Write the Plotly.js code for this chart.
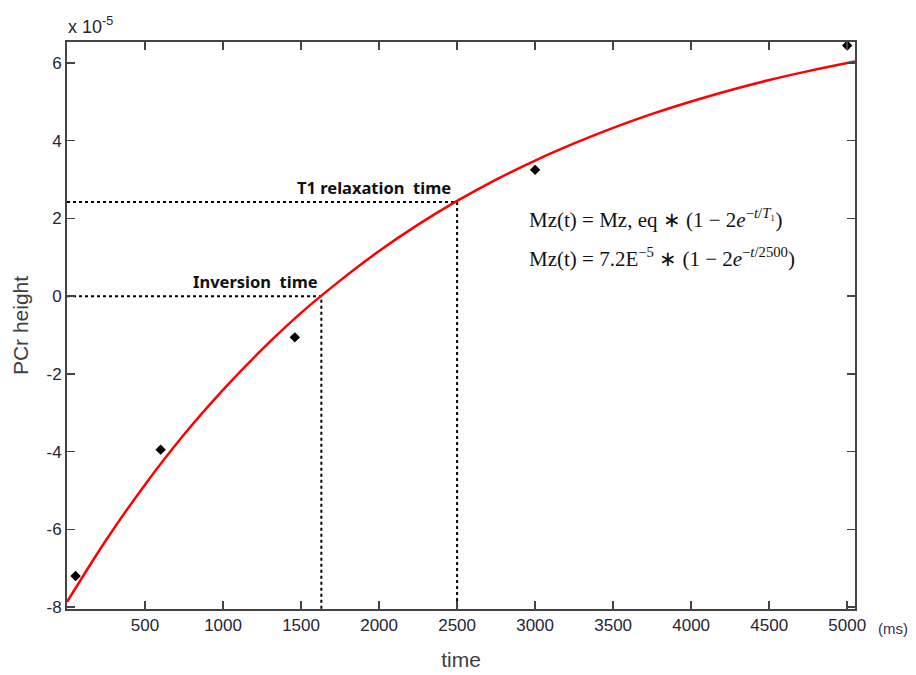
<!DOCTYPE html>
<html>
<head>
<meta charset="utf-8">
<script src="https://cdn.plot.ly/plotly-3.0.1.min.js"></script>
<style>html,body{margin:0;padding:0;background:#fff;}#chart{width:916px;height:675px;}</style>
</head>
<body>
<div id="chart"></div>
<script>
// Measured data points (time in ms, PCr height in units of 1e-5)
const pointTimes = [55, 600, 1460, 3000, 5000];
const pointHeights = [-7.2, -3.95, -1.06, 3.25, 6.45];

// Fitted curve (time ms, height x1e-5)
const curveTimes = [0, 250, 500, 750, 1000, 1250, 1500, 1750, 2000, 2250, 2500, 2750, 3000, 3250, 3500, 3750, 4000, 4250, 4500, 4750, 5000, 5050];
const curveHeights = [-7.87, -6.28, -4.85, -3.56, -2.41, -1.37, -0.43, 0.40, 1.16, 1.84, 2.45, 3.00, 3.49, 3.93, 4.33, 4.69, 5.01, 5.30, 5.56, 5.79, 6.00, 6.04];

// Marker guide values
const guideNames = ['Inversion&nbsp; time', 'T1 relaxation&nbsp; time'];
const guideTimes = [1630, 2500];
const guideHeights = [0, 2.42];

const xTicks = [500, 1000, 1500, 2000, 2500, 3000, 3500, 4000, 4500, 5000];
const yTicks = [-8, -6, -4, -2, 0, 2, 4, 6];
const xRange = [0, 5050];
const yRange = [-8.05, 6.54];

const traces = [];
// dotted guide lines
guideTimes.forEach((t, i) => {
  traces.push({
    x: [xRange[0], t, t], y: [guideHeights[i], guideHeights[i], yRange[0]],
    mode: 'lines', line: {color: '#000', width: 2, dash: 'dot'},
    hoverinfo: 'skip', showlegend: false
  });
});
traces.push({
  x: curveTimes, y: curveHeights, mode: 'lines',
  line: {color: '#ff0000', width: 2.5, shape: 'spline'}, showlegend: false
});
traces.push({
  x: pointTimes, y: pointHeights, mode: 'markers',
  marker: {symbol: 'diamond', color: '#000', size: 8}, showlegend: false, cliponaxis: false
});

const tickFont = {family: 'Liberation Sans, Arial, sans-serif', size: 17, color: '#262633'};
const axisCommon = {
  showgrid: false, zeroline: false, showline: true, linecolor: '#444', linewidth: 2,
  mirror: 'ticks', ticks: 'inside', ticklen: 8, tickwidth: 1.5, tickcolor: '#444',
  tickfont: tickFont
};

const labelFont = {family: 'Noto Sans, sans-serif', size: 16.5, color: '#111', weight: 'bold'};
const eqFont = {family: 'Liberation Serif, serif', size: 21, color: '#111'};
const annotations = [
  {text: guideNames[1], x: guideTimes[1], y: guideHeights[1], xref: 'x', yref: 'y',
   xanchor: 'right', yanchor: 'bottom', yshift: 1, xshift: -4, showarrow: false, font: labelFont},
  {text: guideNames[0], x: guideTimes[0], y: guideHeights[0], xref: 'x', yref: 'y',
   xanchor: 'right', yanchor: 'bottom', yshift: 1, xshift: -1, showarrow: false, font: labelFont},
  {text: 'Mz(t) = Mz, eq ∗ (1 − 2<i>e</i><sup>−<i>t</i>/<i>T</i>₁</sup>)', x: 527, y: 219,
   showarrow: false, xanchor: 'left', yanchor: 'middle', font: eqFont},
  {text: 'Mz(t) = 7.2E<sup>−5</sup> ∗ (1 − 2<i>e</i><sup>−<i>t</i>/2500</sup>)', x: 527, y: 257,
   showarrow: false, xanchor: 'left', yanchor: 'middle', font: eqFont},
  {text: 'x 10<sup>-5</sup>', x: 66, y: 25, showarrow: false, xanchor: 'left', yanchor: 'middle',
   font: {family: 'Liberation Sans, Arial, sans-serif', size: 18, color: '#262633'}},
  {text: '(ms)', x: 876, y: 628, showarrow: false, xanchor: 'left', yanchor: 'middle',
   font: {family: 'Liberation Sans, Arial, sans-serif', size: 15, color: '#3a3050'}}
];
// convert pixel-positioned annotations to paper coords
const W = 916, H = 675, mL = 67, mR = 61, mT = 42, mB = 66;
annotations.forEach(a => {
  if (a.xref === undefined) {
    a.xref = 'paper'; a.yref = 'paper';
    a.x = (a.x - mL) / (W - mL - mR);
    a.y = 1 - (a.y - mT) / (H - mT - mB);
  }
});

const layout = {
  width: W, height: H,
  margin: {l: mL, r: mR, t: mT, b: mB, pad: 0},
  paper_bgcolor: '#fff', plot_bgcolor: '#fff',
  showlegend: false,
  xaxis: Object.assign({}, axisCommon, {
    range: xRange, tickvals: xTicks, ticktext: xTicks.map(String),
    title: {text: 'time', font: {family: 'Liberation Sans, Arial, sans-serif', size: 21, color: '#404040'}, standoff: 18}
  }),
  yaxis: Object.assign({}, axisCommon, {
    range: yRange, tickvals: yTicks, ticktext: yTicks.map(String),
    title: {text: 'PCr height', font: {family: 'Liberation Sans, Arial, sans-serif', size: 21, color: '#404040'}, standoff: 12}
  }),
  annotations: annotations
};

Plotly.newPlot('chart', traces, layout, {displayModeBar: false, staticPlot: true});
</script>
</body>
</html>
